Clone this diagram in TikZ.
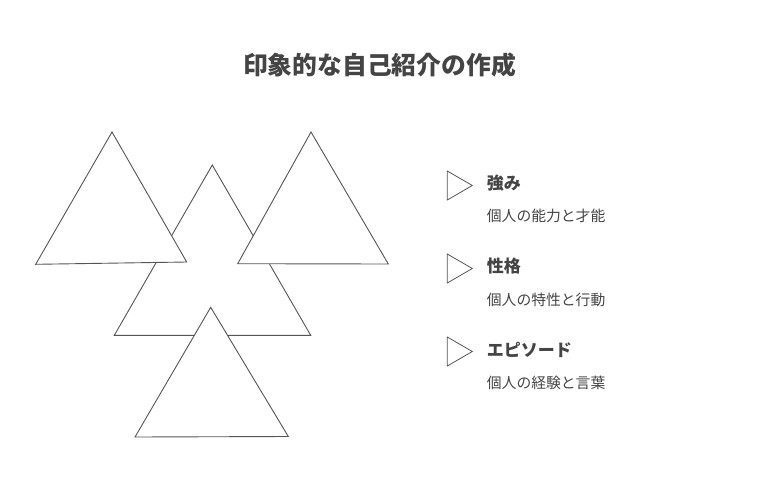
\documentclass[tikz,border=0pt]{standalone}
\usepackage{fontspec}
\newfontfamily\cjk{Noto Sans CJK JP}
\definecolor{inkgray}{HTML}{444444}
\definecolor{linegray}{HTML}{555555}
\begin{document}
\begin{tikzpicture}[x=1pt,y=-1pt]
  \tikzstyle{tri}=[draw=linegray,fill=white,line width=0.9pt,line join=miter]
  \tikzstyle{marker}=[draw=linegray,fill=white,line width=0.8pt]
  \tikzstyle{title}=[font=\cjk\bfseries\fontsize{24.8}{28}\selectfont,text=inkgray]
  \tikzstyle{head}=[anchor=west,inner sep=0pt,font=\cjk\bfseries\fontsize{17}{20}\selectfont,text=inkgray]
  \tikzstyle{desc}=[anchor=west,inner sep=0pt,font=\cjk\fontsize{14.8}{18}\selectfont,text=inkgray]
  \useasboundingbox (0,0) rectangle (760,498);
  \node[title] (maintitle) at (379.5,65) {印象的な自己紹介の作成};
  % triangles
  \draw[tri] (212.3,165) -- (114.3,335.3) -- (310.7,335.3) -- cycle;
  \draw[tri] (112,132) -- (35.7,264.3) -- (186.7,262) -- cycle;
  \draw[tri] (311,132) -- (237.7,263.7) -- (388.3,264) -- cycle;
  \draw[tri] (210.7,307.3) -- (135,437) -- (288.3,436.5) -- cycle;
  % markers
  \draw[marker] (447.3,171) -- (472.3,185.5) -- (447.3,200) -- cycle;
  \draw[marker] (447.3,254) -- (472.3,268.5) -- (447.3,283) -- cycle;
  \draw[marker] (447.3,337) -- (472.3,351.5) -- (447.3,366) -- cycle;
  \node[head] (strength) at (486.7,183) {強み};
  \node[desc] (strengthdesc) at (486.7,216) {個人の能力と才能};
  \node[head] (character) at (486.7,266) {性格};
  \node[desc] (characterdesc) at (486.7,300) {個人の特性と行動};
  \node[head] (episode) at (486.7,350) {エピソード};
  \node[desc] (episodedesc) at (486.7,383) {個人の経験と言葉};
\end{tikzpicture}
\end{document}
